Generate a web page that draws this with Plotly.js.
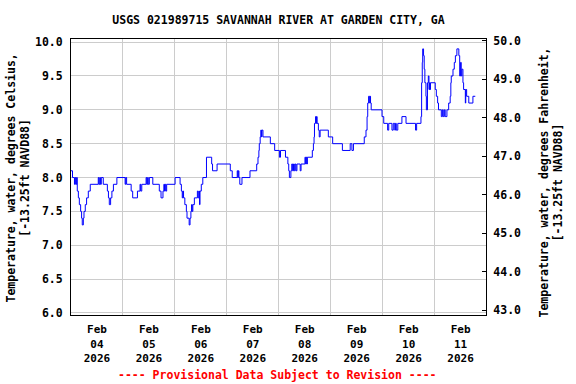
<!DOCTYPE html>
<html>
<head>
<meta charset="utf-8">
<script src="https://cdn.plot.ly/plotly-3.0.1.min.js"></script>
<style>html,body{margin:0;padding:0;background:#fff;}#chart{width:576px;height:384px;}</style>
</head>
<body>
<div id="chart"></div>
<script>
const startTime = '2026-02-04T00:00:00';
// hours since start of Feb 04 2026 at which the reading changes
const hoursSinceStart = [
  0.0, 0.7, 1.6, 2.0, 2.3, 2.6, 2.9, 3.4, 3.85, 4.45, 4.9, 5.2, 5.7, 6.0, 6.6, 7.2, 8.0, 8.9,
  12.6, 12.9, 13.3, 13.6, 14.0, 14.9, 16.8, 17.3, 17.7, 18.3, 18.9, 19.6, 21.2,
  25.0, 25.3, 25.7, 27.8, 28.5, 30.7, 31.9, 32.2, 32.7, 34.7, 35.0, 35.4, 35.7, 36.2, 37.8,
  40.8, 41.6, 42.5, 42.9, 43.2, 43.5, 43.8, 44.2, 48.1,
  50.4, 51.0, 51.4, 51.7, 52.0, 52.6, 53.3, 53.6, 54.6, 55.0, 55.4, 55.7, 56.0, 56.3, 57.0,
  58.4, 58.8, 59.2, 59.4, 59.6, 60.2, 60.9, 62.6, 65.0, 65.4, 67.5,
  73.6, 74.5, 76.8, 77.1, 77.3, 77.6, 78.0, 79.0, 82.7, 85.8, 86.4, 86.8, 87.0, 87.4, 87.7,
  88.0, 88.2, 88.7, 92.1, 94.1, 96.3, 96.8, 99.1,
  100.2, 100.6, 100.9, 101.6, 102.0, 102.4, 102.8, 103.2, 103.6, 104.0, 104.4, 105.9, 106.3,
  108.1, 108.4, 108.7, 109.0, 109.2, 111.5, 112.0, 112.3, 112.5, 113.0, 113.3, 113.5, 113.7,
  114.3, 114.7, 115.1, 118.9, 120.9, 125.4, 129.0, 129.8, 130.5, 135.5, 136.3, 136.8,
  137.1, 137.5, 138.0, 138.2, 138.4, 138.7, 143.7, 144.5, 146.3, 146.8, 148.3, 148.9,
  149.6, 149.9, 150.3, 151.0, 152.9, 154.8, 159.2, 159.7, 161.7, 162.0, 162.3, 162.5,
  162.9, 163.2, 163.5, 164.0, 164.2, 164.7, 165.1, 165.4, 165.7, 165.9, 166.1, 168.3,
  168.8, 169.4, 169.8, 171.1, 171.6, 172.0, 172.5, 172.9, 173.7, 174.5, 175.2, 175.5,
  175.7, 176.5, 177.1, 177.6, 178.3, 179.2, 179.6, 180.0, 180.3, 180.6, 181.1, 181.4,
  182.2, 182.4, 182.8, 183.8, 185.7, 186.8
];
const tempC = [
  8.1, 8.0, 7.9, 8.0, 7.9, 8.0, 7.8, 7.7, 7.6, 7.5, 7.4, 7.3, 7.4, 7.5, 7.6, 7.7, 7.8, 7.9,
  8.0, 7.9, 8.0, 7.9, 8.0, 7.9, 7.8, 7.7, 7.6, 7.7, 7.8, 7.9, 8.0,
  7.9, 8.0, 7.9, 7.8, 7.7, 7.8, 7.9, 7.8, 7.9, 8.0, 7.9, 8.0, 7.9, 8.0, 7.9,
  7.8, 7.7, 7.8, 7.9, 7.8, 7.9, 7.8, 7.9, 8.0,
  7.9, 7.8, 7.7, 7.8, 7.7, 7.6, 7.5, 7.4, 7.3, 7.4, 7.5, 7.6, 7.5, 7.6, 7.7,
  7.8, 7.7, 7.8, 7.6, 7.8, 7.9, 8.0, 8.3, 8.2, 8.1, 8.2,
  8.1, 8.0, 8.1, 8.0, 8.1, 8.0, 7.9, 8.0, 8.1, 8.2, 8.3, 8.4, 8.5, 8.6, 8.7,
  8.6, 8.7, 8.6, 8.5, 8.4, 8.3, 8.4, 8.3,
  8.2, 8.1, 8.0, 8.1, 8.2, 8.1, 8.2, 8.1, 8.2, 8.1, 8.2, 8.1, 8.2,
  8.3, 8.2, 8.3, 8.2, 8.3, 8.4, 8.5, 8.6, 8.8, 8.9, 8.8, 8.9, 8.8,
  8.7, 8.6, 8.7, 8.6, 8.5, 8.4, 8.5, 8.4, 8.5, 8.6, 8.7, 8.9,
  9.1, 9.2, 9.1, 9.2, 9.1, 9.0, 8.9, 8.8, 8.7, 8.8, 8.7, 8.8,
  8.7, 8.8, 8.7, 8.8, 8.9, 8.8, 8.7, 8.8, 8.9, 9.4, 9.7, 9.9,
  9.8, 9.6, 9.4, 9.2, 9.0, 9.4, 9.5, 9.3, 9.4, 9.3, 9.4, 9.3,
  9.2, 9.1, 9.0, 8.9, 9.0, 8.9, 9.0, 8.9, 9.0, 9.1, 9.2, 9.4,
  9.5, 9.6, 9.7, 9.8, 9.9, 9.8, 9.5, 9.7, 9.5, 9.6, 9.4, 9.3,
  9.1, 9.3, 9.2, 9.1, 9.2, 9.2
];
const dayTickValues = ['2026-02-04 12:00','2026-02-05 12:00','2026-02-06 12:00','2026-02-07 12:00',
  '2026-02-08 12:00','2026-02-09 12:00','2026-02-10 12:00','2026-02-11 12:00'];
const dayTickLabels = ['Feb<br>04<br>2026','Feb<br>05<br>2026','Feb<br>06<br>2026','Feb<br>07<br>2026',
  'Feb<br>08<br>2026','Feb<br>09<br>2026','Feb<br>10<br>2026','Feb<br>11<br>2026'];
const xRange = ['2026-02-04 00:00', '2026-02-11 23:45'];
const celsiusRange = [5.97, 10.046];
const fahrenheitRange = [42.87, 50.045];

function pad(n){ return (n < 10 ? '0' : '') + n; }
function toStamp(h) {
  const base = Date.UTC(2026, 1, 4, 0, 0, 0);
  const d = new Date(base + Math.round(h * 60) * 60000);
  return d.getUTCFullYear() + '-' + pad(d.getUTCMonth() + 1) + '-' + pad(d.getUTCDate()) + ' ' +
    pad(d.getUTCHours()) + ':' + pad(d.getUTCMinutes());
}
const times = hoursSinceStart.map(toStamp);

const FONT = 'DejaVu Sans Mono, Liberation Mono, monospace';
const baseFont = {family: FONT, size: 11.5, color: '#000', weight: 'bold'};

const traces = [
  {
    x: times, y: tempC, type: 'scatter', mode: 'lines',
    line: {color: '#0000ff', width: 1, shape: 'hv'},
    hoverinfo: 'skip', showlegend: false
  },
  {
    x: [xRange[0]], y: [fahrenheitRange[0]], yaxis: 'y2', type: 'scatter', mode: 'markers',
    marker: {opacity: 0}, hoverinfo: 'skip', showlegend: false
  }
];

const layout = {
  width: 576, height: 384,
  margin: {l: 71, r: 90, t: 39, b: 69, pad: 0},
  paper_bgcolor: '#ffffff', plot_bgcolor: '#ffffff',
  font: baseFont,
  showlegend: false,
  title: {
    text: 'USGS 021989715 SAVANNAH RIVER AT GARDEN CITY, GA',
    font: baseFont, x: 0.5, xref: 'paper', xanchor: 'center',
    y: 1 - 19.5 / 384, yref: 'container', yanchor: 'middle'
  },
  xaxis: {
    type: 'date', range: xRange,
    tickmode: 'array', tickvals: dayTickValues, ticktext: dayTickLabels,
    ticks: '', showgrid: false, zeroline: false,
    tickfont: Object.assign({}, baseFont, {size: 11}),
    ticklabelstandoff: 4,
    minor: {dtick: 86400000, tick0: '2026-02-04 00:00', showgrid: true, gridcolor: '#cccccc', gridwidth: 1, ticks: ''},
    showline: true, linecolor: '#000', linewidth: 1, mirror: true,
    fixedrange: true
  },
  yaxis: {
    range: celsiusRange, dtick: 0.5, tick0: 6, tickformat: '.1f',
    ticks: '', showgrid: true, gridcolor: '#cccccc', gridwidth: 1, zeroline: false,
    tickfont: baseFont, ticklabelstandoff: 5,
    showline: true, linecolor: '#000', linewidth: 1,
    fixedrange: true
  },
  yaxis2: {
    overlaying: 'y', side: 'right', anchor: 'x',
    range: fahrenheitRange, dtick: 1, tick0: 43, tickformat: '.1f',
    ticks: 'inside', ticklen: 4, tickcolor: '#000', tickwidth: 1,
    showgrid: false, zeroline: false,
    tickfont: baseFont, ticklabelstandoff: 4,
    showline: true, linecolor: '#000', linewidth: 1,
    fixedrange: true
  },
  annotations: [
    {
      text: 'Temperature, water, degrees Celsius,<br>[-13.25ft NAVD88]',
      xref: 'paper', yref: 'paper', x: (18 - 71) / 415, y: (315 - 178.5) / 276,
      xanchor: 'center', yanchor: 'middle', textangle: -90, showarrow: false,
      font: baseFont
    },
    {
      text: 'Temperature, water, degrees Fahrenheit,<br>[-13.25ft NAVD88]',
      xref: 'paper', yref: 'paper', x: (551 - 71) / 415, y: (315 - 182.5) / 276,
      xanchor: 'center', yanchor: 'middle', textangle: -90, showarrow: false,
      font: baseFont
    },
    {
      text: '---- Provisional Data Subject to Revision ----',
      xref: 'paper', yref: 'paper', x: (277 - 71) / 415, y: -(375 - 315) / 276,
      xanchor: 'center', yanchor: 'middle', showarrow: false,
      font: Object.assign({}, baseFont, {color: '#ff0000'})
    }
  ]
};

Plotly.newPlot('chart', traces, layout, {displayModeBar: false, staticPlot: true, responsive: false});
</script>
</body>
</html>
